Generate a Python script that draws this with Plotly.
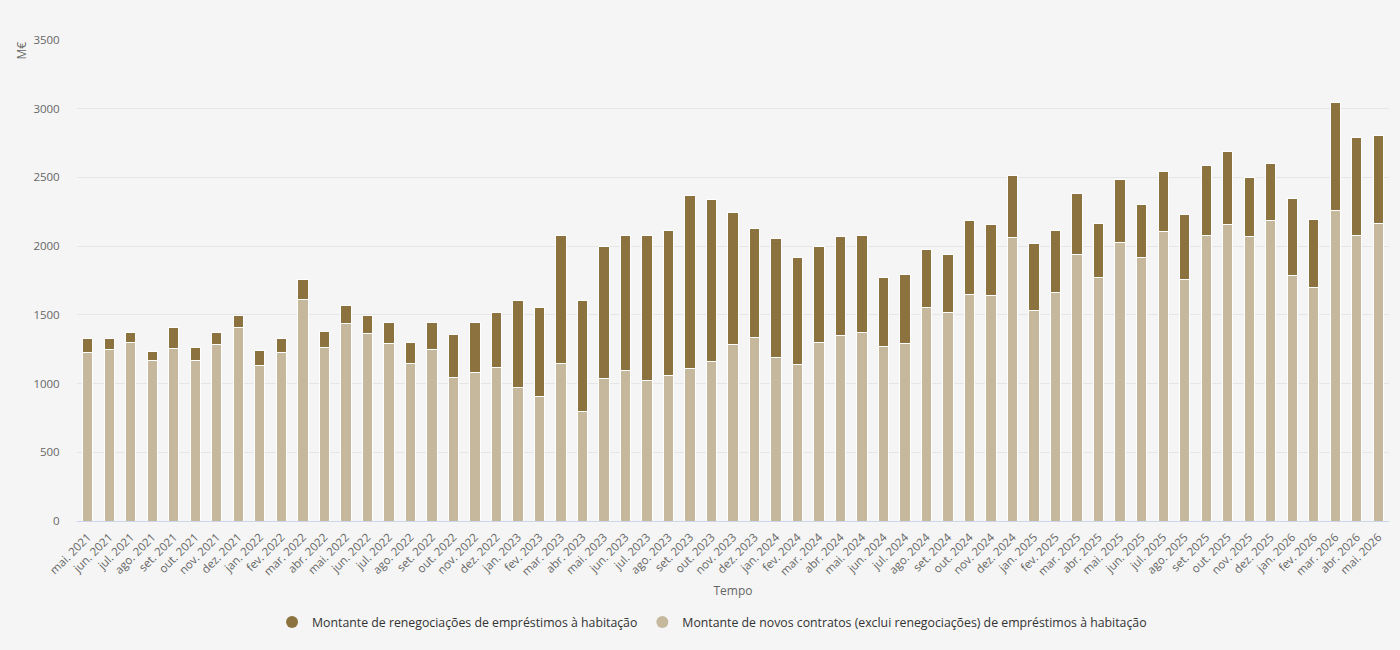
import plotly.graph_objects as go

categories = [
    "mai. 2021", "jun. 2021", "jul. 2021", "ago. 2021", "set. 2021", "out. 2021", "nov. 2021", "dez. 2021",
    "jan. 2022", "fev. 2022", "mar. 2022", "abr. 2022", "mai. 2022", "jun. 2022", "jul. 2022", "ago. 2022",
    "set. 2022", "out. 2022", "nov. 2022", "dez. 2022",
    "jan. 2023", "fev. 2023", "mar. 2023", "abr. 2023", "mai. 2023", "jun. 2023", "jul. 2023", "ago. 2023",
    "set. 2023", "out. 2023", "nov. 2023", "dez. 2023",
    "jan. 2024", "fev. 2024", "mar. 2024", "abr. 2024", "mai. 2024", "jun. 2024", "jul. 2024", "ago. 2024",
    "set. 2024", "out. 2024", "nov. 2024", "dez. 2024",
    "jan. 2025", "fev. 2025", "mar. 2025", "abr. 2025", "mai. 2025", "jun. 2025", "jul. 2025", "ago. 2025",
    "set. 2025", "out. 2025", "nov. 2025", "dez. 2025",
    "jan. 2026", "fev. 2026", "mar. 2026", "abr. 2026", "mai. 2026",
]

novos_contratos = [
    1228, 1250, 1300, 1169, 1258, 1169, 1281, 1411,
    1128, 1225, 1611, 1264, 1439, 1367, 1292, 1147,
    1250, 1047, 1083, 1119,
    975, 908, 1147, 800, 1039, 1092, 1019, 1061,
    1111, 1164, 1286, 1336,
    1192, 1139, 1300, 1350, 1372, 1269, 1292, 1556,
    1517, 1650, 1642, 2064,
    1533, 1664, 1939, 1772, 2028, 1917, 2108, 1758,
    2075, 2161, 2069, 2189,
    1789, 1700, 2256, 2075, 2164,
]

totais = [
    1325, 1325, 1369, 1231, 1406, 1261, 1369, 1492,
    1239, 1325, 1756, 1378, 1567, 1492, 1442, 1297,
    1442, 1356, 1442, 1514,
    1603, 1550, 2075, 1608, 1994, 2075, 2075, 2111,
    2372, 2342, 2247, 2131,
    2053, 1914, 2000, 2067, 2081, 1769, 1797, 1972,
    1942, 2189, 2161, 2517,
    2022, 2117, 2386, 2167, 2486, 2300, 2544, 2233,
    2589, 2692, 2503, 2603,
    2350, 2197, 3047, 2789, 2806,
]

renegociacoes = [t - n for t, n in zip(totais, novos_contratos)]

name_reneg = "Montante de renegociações de empréstimos à habitação"
name_novos = "Montante de novos contratos (exclui renegociações) de empréstimos à habitação"

color_dark = "#8c723e"
color_light = "#c5b89d"
font_family = "Open Sans, sans-serif"

fig = go.Figure()
fig.add_trace(go.Bar(
    x=categories, y=novos_contratos, name=name_novos,
    marker=dict(color=color_light, line=dict(color="#ffffff", width=1)),
    showlegend=False,
))
fig.add_trace(go.Bar(
    x=categories, y=renegociacoes, name=name_reneg,
    marker=dict(color=color_dark, line=dict(color="#ffffff", width=1)),
    showlegend=False,
))
# legend entries with circle markers
fig.add_trace(go.Scatter(
    x=[None], y=[None], mode="markers", name=name_reneg,
    marker=dict(color=color_dark, size=12, symbol="circle"), legendrank=1,
))
fig.add_trace(go.Scatter(
    x=[None], y=[None], mode="markers", name=name_novos,
    marker=dict(color=color_light, size=12, symbol="circle"), legendrank=2,
))

fig.update_layout(
    width=1400, height=650,
    barmode="stack",
    bargap=0.52,
    paper_bgcolor="#f5f5f5",
    plot_bgcolor="#f5f5f5",
    margin=dict(l=77, r=11, t=40, b=129, autoexpand=False),
    font=dict(family=font_family, size=11, color="#666666"),
    legend=dict(
        orientation="h", xref="container", x=0.5086, xanchor="center",
        yref="container", y=0.043, yanchor="middle",
        font=dict(size=12.3, color="#333333"), itemsizing="constant",
        traceorder="normal", itemwidth=30,
    ),
    xaxis=dict(
        type="category",
        automargin=False,
        tickangle=-45,
        tickfont=dict(size=11.5, color="#666666"),
        showgrid=False,
        showline=True, linecolor="#ccd6eb", linewidth=1,
        ticks="outside", ticklen=4, tickcolor="rgba(0,0,0,0)",
        title=dict(text="Tempo", font=dict(size=12, color="#666666"), standoff=9),
    ),
    yaxis=dict(
        automargin=False,
        range=[0, 3500],
        dtick=500,
        tickfont=dict(size=11.5, color="#666666"),
        gridcolor="#e6e6e6", gridwidth=1,
        zeroline=False,
        ticks="outside", ticklen=14, tickcolor="rgba(0,0,0,0)",
        tickformat="d",
    ),
    annotations=[dict(
        text="M€", textangle=-90, xref="paper", yref="paper",
        x=-0.043, y=1.0, xanchor="center", yanchor="top",
        showarrow=False, font=dict(size=12, color="#666666"),
    )],
)

fig.write_html("out.html")
